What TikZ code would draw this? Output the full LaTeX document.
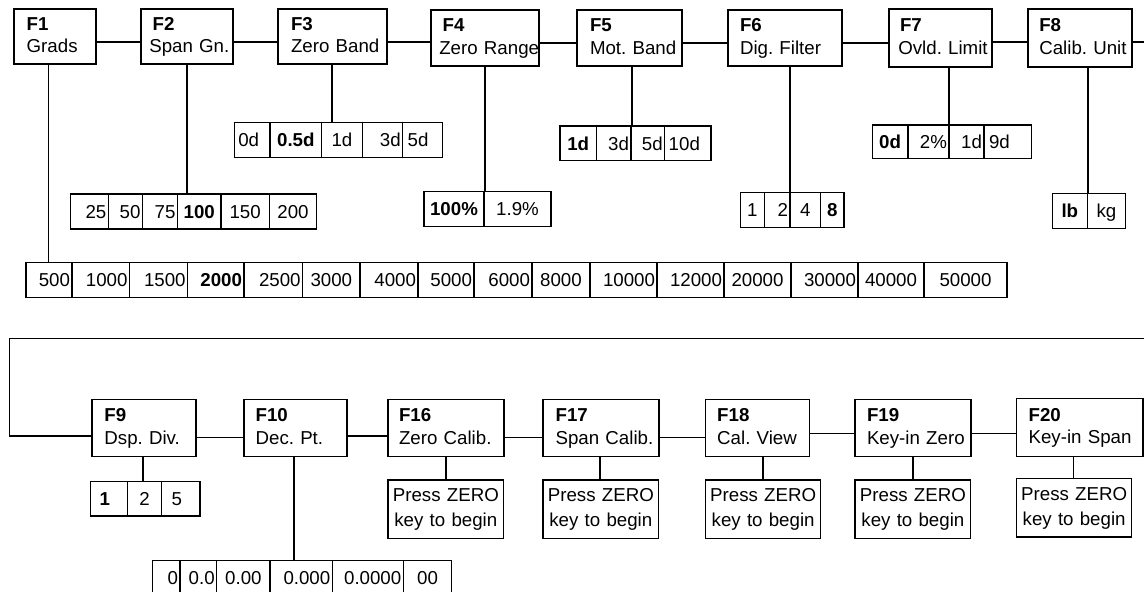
\documentclass[tikz,border=0pt]{standalone}
\usepackage{fontspec}
\setmainfont{Liberation Sans}
\newcommand\fbx[8]{%
  \pgfmathsetmacro\fbW{#4-#2}\pgfmathsetmacro\fbH{#5-#3}\pgfmathsetmacro\fbT{#4-#2-2*#6}%
  \node[fbox, minimum width=\fbW pt, minimum height=\fbH pt, text width=\fbT pt, inner xsep=#6pt] (#1) at ({(#2+#4)/2},{(#3+#5)/2}) {\mbox{#7}\\\mbox{#8}};}
\newcommand\sbx[6]{%
  \pgfmathsetmacro\fbW{#4-#2}\pgfmathsetmacro\fbH{#5-#3}\pgfmathsetmacro\fbT{#4-#2-4}%
  \node[sbox, minimum width=\fbW pt, minimum height=\fbH pt, text width=\fbT pt, inner xsep=2pt] (#1) at ({(#2+#4)/2},{(#3+#5)/2}) {#6};}
\newcommand\cellrow[4]{%
  \foreach \xa/\xb/\al/\tx [count=\i] in {#4} {%
    \pgfmathsetmacro\cW{\xb-\xa}\pgfmathsetmacro\cT{\xb-\xa-4}\pgfmathsetmacro\cH{#3-#2}%
    \node[cell, \al, minimum width=\cW pt, minimum height=\cH pt, text width=\cT pt, inner xsep=2pt] (#1-\i) at ({(\xa+\xb)/2},{(#2+#3)/2}) {\tx};
  }}
\begin{document}
\begin{tikzpicture}[x=1pt,y=-1pt,
  every node/.style={font=\fontsize{18.7}{22.8}\selectfont\frenchspacing},
  fbox/.style={draw, line width=1.3pt, inner ysep=0pt, align=left, text height=14pt, text depth=26.8pt},
  sbox/.style={draw, line width=1.3pt, inner ysep=0pt, align=center, text height=14pt, text depth=28.6pt},
  cell/.style={draw, line width=1.2pt, inner ysep=0pt, text height=13.4pt, text depth=0pt},
  alR/.style={align=right}, alC/.style={align=center}, alL/.style={align=left},
  conn/.style={line width=1.2pt},
  link/.style={line width=1.5pt}]
\useasboundingbox (0,0) rectangle (1144,592);
\clip (0,0) rectangle (1144,592);
% top function boxes
\fbx{f1}{14}{9}{96}{64}{12.7}{\textbf{F1}}{Grads}
\fbx{f2}{141}{9}{233}{64}{8.3}{\hspace*{3.4pt}\textbf{F2}}{Span Gn.}
\fbx{f3}{278}{9}{387}{64}{13}{\textbf{F3}}{Zero Band}
\fbx{f4}{431}{10}{539}{66}{8.3}{\hspace*{3.4pt}\textbf{F4}}{Zero Range}
\fbx{f5}{577}{10}{682}{66}{13}{\textbf{F5}}{Mot. Band}
\fbx{f6}{728}{10}{842}{66}{12}{\textbf{F6}}{Dig. Filter}
\fbx{f7}{889}{9}{992}{67}{9.3}{\hspace*{1.7pt}\textbf{F7}}{Ovld. Limit}
\fbx{f8}{1028}{9}{1132}{67}{11.3}{\textbf{F8}}{Calib. Unit}
% bottom function boxes
\fbx{f9}{92}{399.3}{196}{456.7}{12.4}{\textbf{F9}}{Dsp. Div.}
\fbx{f10}{244}{399.3}{347}{456.7}{11.6}{\textbf{F10}}{Dec. Pt.}
\fbx{f16}{388}{399.3}{504}{456.7}{11}{\textbf{F16}}{Zero Calib.}
\fbx{f17}{543}{399.3}{659}{456.7}{12.6}{\textbf{F17}}{Span Calib.}
\fbx{f18}{705.6}{399.3}{809.5}{456.7}{11.6}{\textbf{F18}}{Cal. View}
\fbx{f19}{855}{399.3}{971}{456.7}{12}{\textbf{F19}}{Key-in Zero}
\fbx{f20}{1016.6}{398.3}{1143}{456.7}{12}{\textbf{F20}}{Key-in Span}
% press zero boxes
\sbx{s16}{388}{480}{503.7}{538.3}{Press ZERO\\[2.2pt]key to begin}
\sbx{s17}{543}{480}{658.7}{538.3}{Press ZERO\\[2.2pt]key to begin}
\sbx{s18}{705.6}{480}{820.7}{538.3}{Press ZERO\\[2.2pt]key to begin}
\sbx{s19}{855}{480}{970.8}{538.3}{Press ZERO\\[2.2pt]key to begin}
\sbx{s20}{1016.6}{478.7}{1131.7}{537}{Press ZERO\\[2.2pt]key to begin}
% option rows
\cellrow{g}{262.7}{297.7}{26/72/alR/500, 72/129.5/alR/1000, 129.5/187.6/alR/1500, 187.6/244/alR/\textbf{2000}, 244/302.6/alR/2500, 302.6/360/alC/3000, 360/418/alR/4000, 418/474/alR/5000, 474/532/alR/6000, 532/590/alC/8000, 590/657/alR/10000, 657/724/alR/12000, 724/791/alC/20000, 791/858/alR/30000, 858/924/alC/40000, 924/1007/alC/50000}
\cellrow{r2}{194}{229}{70.5/108.3/alR/25, 108.3/142.5/alR/50, 142.5/177.5/alR/75, 177.5/221/alC/\textbf{100}, 221/269.3/alC/150, 269.3/316.8/alC/200}
\cellrow{r3}{122.7}{157.7}{234.3/270/alL/\hspace*{2pt}0d, 270/321.7/alC/\textbf{0.5d}, 321.7/362.3/alC/1d, 362.3/402.7/alR/3d, 402.7/442.7/alL/\hspace*{3pt}5d}
\cellrow{r4}{191.7}{226.7}{424/484/alC/\textbf{100\%}, 484/551/alC/1.9\%}
\cellrow{r5}{126}{160.7}{560/596.5/alC/\textbf{1d}, 596.5/631/alR/3d, 631/664.7/alR/5d, 664.7/711/alL/\hspace*{2pt}10d}
\cellrow{r6}{192.3}{227.3}{740.3/764.3/alC/1, 764.3/790/alR/2, 790/820.7/alC/4, 820.7/844/alC/\textbf{8}}
\cellrow{r7}{125}{158.8}{872.3/908/alC/\textbf{0d}, 908/949/alR/2\%, 949/984/alR/1d, 984/1031.3/alL/\hspace*{3pt}9d}
\cellrow{r8}{193.3}{228.3}{1052.3/1087.3/alC/\textbf{lb}, 1087.3/1125.7/alC/kg}
\cellrow{r9}{481.7}{516}{90.7/127.3/alL/\hspace*{7pt}\textbf{1}, 127.3/161.7/alC/2, 161.7/200/alL/\hspace*{8pt}5}
\cellrow{r10}{560.7}{595.7}{152.3/180/alR/0, 180/216.7/alR/0.0, 216.7/270/alC/0.00, 270/332.3/alR/0.000, 332.3/403.3/alR/0.0000, 403.3/451.7/alC/00}
% horizontal connectors
\foreach \a/\b/\y in {f1/f2/42, f2/f3/42, f3/f4/42, f4/f5/43, f5/f6/43, f6/f7/43, f7/f8/42, f9/f10/437.7, f10/f16/436, f16/f17/437.7, f17/f18/437.7, f18/f19/433.3, f19/f20/433.3} {
  \coordinate (hy) at (0,\y);
  \draw[conn] (\a.east |- hy) -- (\b.west |- hy);
}
% drops
\foreach \n/\dx/\t in {f1/-6.5/g-1, f2/0/r2-4, f3/-0.5/r3-3, f4/0/r4-1, f5/2.5/r5-3, f6/5/r6-3, f7/8.5/r7-3, f8/8/r8-2, f9/-1/r9-2, f10/-1.5/r10-4, f16/0/s16, f17/-1/s17, f18/5.5/s18, f19/0/s19, f20/-6/s20} {
  \coordinate (dd) at ([xshift=\dx pt]\n.south);
  \draw[conn] (dd) -- (dd |- \t.north);
}
% continuation F8 -> F9
\coordinate (e8) at (1144,42);
\draw[conn] (f8.east |- e8) -- (e8);
\coordinate (rr) at (1144,338.3);
\coordinate (ll) at (9.3,436);
\draw[link] (rr) -| (ll) -- (ll -| f9.west);
\end{tikzpicture}
\end{document}
